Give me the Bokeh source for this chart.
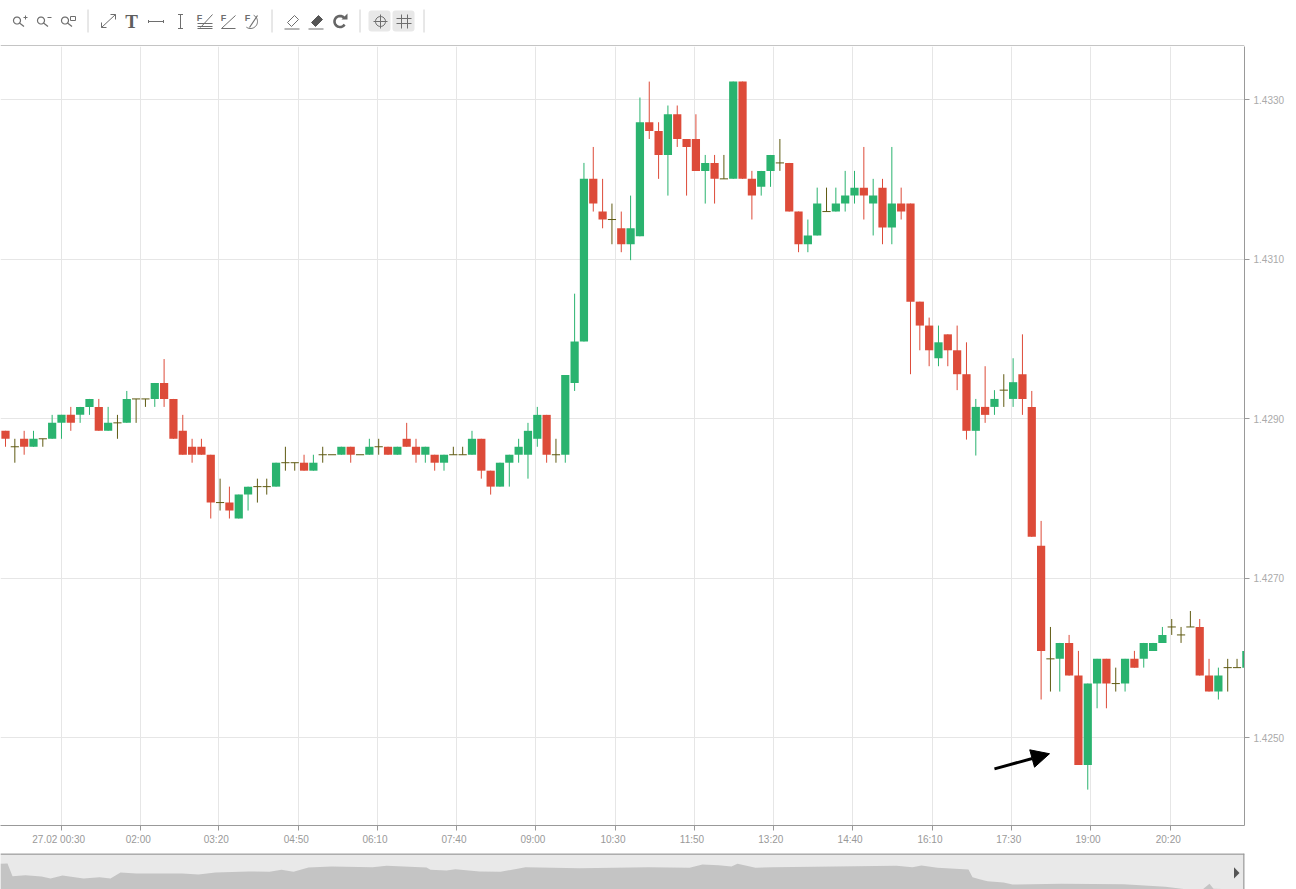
import math
from bokeh.plotting import figure
from bokeh.layouts import column
from bokeh.models import (Range1d, FixedTicker, NumeralTickFormatter, Arrow, NormalHead)
from bokeh.core.properties import value
from bokeh.embed import file_html
from bokeh.resources import INLINE

# Candles, as pips above 1.4250, 10 minutes each
opens = [38.5,36.5,37.5,36.5,37.5,37.5,39.5,40.5,40.5,41.5,41.5,38.5,39.5,39.5,42.5,42.5,42.5,44.5,42.5,38.5,
 36.5,36.5,35.5,29.5,29.5,27.5,30.5,31.5,31.5,31.5,34.5,34.5,34.5,33.5,35.5,35.5,35.5,36.5,35.5,35.5,
 36.5,36.5,35.5,37.5,36.5,35.5,35.5,34.5,35.5,35.5,35.5,37.5,33.5,31.5,34.5,35.5,35.5,37.5,40.5,35.5,
 35.5,44.5,49.7,70.1,66.0,65.0,63.9,61.9,62.9,77.2,76.1,73.1,78.2,75.1,75.1,71.1,72.1,70.1,70.1,82.3,
 70.1,69.1,71.1,72.1,72.1,66.0,61.9,63.0,66.0,66.0,67.0,68.0,69.0,67.0,69.0,64.0,67.0,67.0,54.7,51.7,
 47.6,50.6,48.6,45.6,38.5,41.5,41.5,43.6,42.5,45.6,41.5,24.1,9.9,9.9,11.9,7.8,-3.4,6.8,9.9,6.8,
 6.8,9.9,9.9,10.9,11.9,13.9,12.9,13.9,13.9,7.8,5.8,8.8,8.8,8.8]
closes = [37.5,36.5,36.5,37.5,37.5,39.5,40.5,39.5,41.5,42.5,38.5,39.5,39.5,42.5,42.5,42.5,44.5,42.5,37.5,35.5,
 35.5,35.5,29.5,29.5,28.5,30.5,31.5,31.5,31.5,34.5,34.5,34.5,33.5,34.5,35.5,35.5,36.5,35.5,35.5,36.5,
 36.5,35.5,36.5,36.5,35.5,36.5,34.5,35.5,35.5,35.5,37.5,33.5,31.5,34.5,35.5,36.5,38.5,40.5,35.5,35.5,
 45.5,49.7,70.1,67.0,65.0,65.0,61.9,63.9,77.2,76.1,73.1,78.2,75.1,74.1,71.1,72.1,70.1,70.1,82.3,70.1,
 68.0,71.1,73.1,72.1,66.0,61.9,63.0,67.0,66.0,67.0,68.0,69.0,68.0,68.0,64.0,67.0,66.0,54.7,51.7,48.6,
 49.6,48.6,45.6,38.5,41.5,40.5,42.5,43.6,44.6,42.5,25.2,10.9,9.9,11.9,7.8,-3.4,6.8,9.9,6.8,6.8,
 9.9,8.8,11.9,11.9,12.9,13.9,12.9,13.9,7.8,5.8,7.8,8.8,8.8,10.9]
highs = [38.5,37.5,38.5,38.5,37.5,40.5,40.5,41.5,41.5,42.5,42.5,41.5,40.5,43.5,42.5,42.5,44.5,47.5,42.5,40.5,
 37.5,37.5,35.5,32.5,31.5,30.5,31.5,32.5,32.5,34.5,36.5,34.5,35.5,35.5,36.5,35.5,36.5,36.5,35.5,37.5,
 37.5,36.5,36.5,39.5,37.5,36.5,35.5,35.5,36.5,36.5,38.5,37.5,33.5,34.5,35.5,37.5,39.5,41.5,40.5,37.5,
 45.5,55.7,72.1,74.1,70.1,67.0,66.0,68.0,80.3,82.3,77.2,79.3,79.3,75.1,78.2,73.1,73.1,73.1,82.3,82.3,
 71.1,71.1,73.1,75.1,72.1,66.0,65.0,69.0,69.0,69.0,71.1,71.1,74.1,70.1,70.1,74.1,69.0,67.0,54.7,52.7,
 51.7,50.6,51.7,49.6,42.5,46.6,43.6,45.6,47.6,50.6,43.5,27.2,13.9,11.9,12.9,10.9,6.8,9.9,9.9,8.8,
 9.9,10.9,11.9,11.9,13.9,14.9,13.9,15.9,14.9,9.9,8.8,9.9,9.9,10.9]
lows = [36.5,34.5,35.5,36.5,36.5,37.5,37.5,38.5,39.5,40.5,38.5,38.5,37.5,39.5,39.5,41.5,41.5,41.5,37.5,35.5,
 34.5,35.5,27.5,28.5,27.5,27.5,28.5,29.5,30.5,31.5,33.5,33.5,33.5,33.5,34.5,35.5,35.5,34.5,35.5,35.5,
 35.5,35.5,35.5,36.5,34.5,34.5,33.5,33.5,35.5,35.5,35.5,32.5,30.5,31.5,31.5,34.5,32.5,36.5,34.5,34.5,
 34.5,43.5,49.7,66.0,63.9,61.9,60.9,59.9,62.9,75.1,70.1,68.0,74.1,68.0,71.1,67.0,67.0,70.1,70.1,70.1,
 65.0,68.0,69.1,71.1,66.0,60.9,60.9,63.0,66.0,66.0,66.0,67.0,65.0,63.0,61.9,61.9,65.0,45.6,48.6,46.6,
 46.6,46.6,43.6,37.4,35.4,39.5,40.5,41.5,41.5,40.5,25.2,4.8,5.8,5.8,7.8,-3.4,-6.5,3.7,3.7,5.8,
 5.8,8.8,8.8,10.9,11.9,12.9,11.9,13.9,7.8,5.8,4.8,5.8,8.8,8.8]

# Time axis
tick_slots = [5.97,14.5,22.86,31.44,39.87,48.34,56.8,65.38,73.85,82.3,90.8,99.36,107.8,116.3,124.9]
tick_labels = ["27.02 00:30","02:00","03:20","04:50","06:10","07:40","09:00","10:30",
               "11:50","13:20","14:40","16:10","17:30","19:00","20:20"]
price_ticks = [1.4250,1.4270,1.4290,1.4310,1.4330]

# Navigator profile
nav_x = [0,7,12,25,41,50,62,83,99,110,120,136,182,198,215,248,269,281,293,308,331,372,386,426,430,446,455,479,500,525,579,
         648,689,702,718,731,737,755,772,834,896,912,921,937,968,972,979,987,1003,1012,1061,1123,1165,1185,1202,1209,1213,1244]
nav_h = [25.7,26,13.3,14.3,13,11,14,11,12.3,11,17,16,16,15,17,18,17.7,19.7,17.7,22,23,22.3,23.7,22,19.7,19,20.3,18,17.7,22.3,21.3,
         22.3,21.7,25,24.3,23,25.7,21.7,22.3,23,23.7,22.3,24,21.7,20,12.3,10.3,8.3,7,5,5.7,5.3,2.7,0.3,0,5.7,0.7,0]

RED, GREEN, DOJI = "#dd4b39", "#2ab36f", "#5f5a12"
price = lambda v: 1.4250 + v / 10000
n = len(opens)
slots = list(range(n))
BODY = 0.88

# ---------- toolbar strip ----------
bar = figure(width=1296, height=46, x_range=Range1d(0, 1244), y_range=Range1d(46, 0),
             x_axis_location=None, y_axis_location=None,
             output_backend="svg", toolbar_location=None,
             min_border_left=0, min_border_right=52, min_border_top=0, min_border_bottom=0,
             outline_line_color=None)
bar.grid.visible = False
ICON = "#6e6e6e"

def arc_pts(cx, cy, r, a0, a1, steps=24):
    t = [a0 + (a1 - a0) * k / steps for k in range(steps + 1)]
    return [cx + r * math.cos(a) for a in t], [cy - r * math.sin(a) for a in t]

bar.segment(x0=[0], y0=[45.5], x1=[1244], y1=[45.5], line_color="#b0b0b0", line_width=1.5)
for sx in [87.5, 271.5, 359.5, 423.5]:
    bar.segment(x0=[sx], y0=[9], x1=[sx], y1=[32], line_color="#d0d0d0")
for cx in [379, 403]:
    bar.rect(x=[cx], y=[20.5], width=22, height=21, fill_color="#e8e8e8", line_color=None,
             border_radius=3)
for cx in [16.5, 40.5, 64.5]:
    bar.line(*arc_pts(cx, 20, 3.5, 0, 6.3), line_color=ICON, line_width=1.2)
    bar.segment(x0=[cx + 2.5], y0=[22.5], x1=[cx + 7], y1=[26], line_color=ICON, line_width=1.2)
bar.segment(x0=[23, 25], y0=[17, 15], x1=[27, 25], y1=[17, 19], line_color=ICON)
bar.segment(x0=[47], y0=[17], x1=[51], y1=[17], line_color=ICON)
bar.quad(left=[70], right=[75], top=[16], bottom=[20], fill_color=None, line_color=ICON)
bar.segment(x0=[101, 110, 115, 101, 101], y0=[27, 14, 14, 22, 27], x1=[115, 115, 115, 101, 106],
            y1=[14, 14, 19, 27, 27], line_color=ICON)
bar.text(x=[131], y=[21], text=["T"], text_font=value("Liberation Serif"), text_font_style="bold",
         text_font_size="19px", text_color="#5e5e5e", text_align="center", text_baseline="middle")
bar.segment(x0=[148, 148, 163, 180, 177.5, 177.5], y0=[21, 19.5, 19.5, 14, 14, 28], x1=[163, 148, 163, 180, 182.5, 182.5],
            y1=[21, 22.5, 22.5, 28, 14, 28], line_color=ICON)
for fx in [199, 223, 247]:
    bar.text(x=[fx], y=[17], text=["F"], text_font=value("Liberation Sans"), text_font_style="bold",
             text_font_size="9px", text_color=ICON, text_align="center", text_baseline="middle")
bar.segment(x0=[197, 197, 197, 200, 221, 221], y0=[28, 23, 26, 27, 28, 28], x1=[212, 212, 212, 212, 235, 235],
            y1=[28, 23, 26, 14, 28, 15], line_color=ICON)
bar.line(*arc_pts(250, 21, 7, 1.1, -2.2), line_color=ICON)
bar.segment(x0=[249, 284, 308], y0=[27, 28.5, 28.5], x1=[257, 299, 323], y1=[15, 28.5, 28.5], line_color=ICON, line_width=1.2)
bar.patch(x=[287, 294, 298, 291], y=[22, 15, 19, 26], fill_color="#ffffff", line_color=ICON)
bar.patch(x=[311, 318, 322, 315], y=[22, 15, 19, 26], fill_color="#555555", line_color="#555555")
bar.line(*arc_pts(339.5, 21, 5.5, 0.75, 5.7), line_color="#666666", line_width=2.6)
bar.patch(x=[341, 347, 347], y=[19, 19, 13], fill_color="#666666", line_color=None)
bar.line(*arc_pts(380, 21, 5, 0, 6.3), line_color=ICON)
bar.segment(x0=[373, 380, 396, 396, 401, 407], y0=[21, 14, 18, 23, 14, 14], x1=[387, 380, 411, 411, 401, 407],
            y1=[21, 28, 18, 23, 28, 28], line_color=ICON)

# ---------- main chart ----------
p = figure(width=1296, height=807, x_range=Range1d(-0.536, 132.8), y_range=Range1d(1.42390, 1.43367),
           y_axis_location="right", output_backend="svg", toolbar_location=None,
           min_border_left=0, min_border_right=52, min_border_top=0, min_border_bottom=28,
           outline_line_color=None)

p.xgrid[0].grid_line_color = "#e6e6e6"
p.xgrid[0].ticker = FixedTicker(ticks=tick_slots)
p.ygrid[0].grid_line_color = "#e6e6e6"
p.ygrid[0].ticker = FixedTicker(ticks=price_ticks)

# labels sit a little left of their tick marks: marks are the axis's minor ticks
label_slots = [round(t - 0.27, 2) for t in tick_slots]
ax = p.xaxis[0]
ax.ticker = FixedTicker(ticks=label_slots, minor_ticks=tick_slots)
ax.major_label_overrides = dict(zip(label_slots, tick_labels))
ax.major_tick_line_color = None
ax.major_tick_out = 5
ax.major_tick_in = 0
ax.minor_tick_line_color = "#999999"
ax.minor_tick_out = 5
ax.minor_tick_in = 0
ax.axis_line_color = "#999999"
ax.major_label_standoff = 3
ay = p.yaxis[0]
ay.ticker = FixedTicker(ticks=price_ticks)
ay.formatter = NumeralTickFormatter(format="0.0000")
ay.axis_line_color = "#999999"
ay.major_tick_line_color = "#999999"
ay.major_tick_out = 5
ay.major_tick_in = 0
ay.minor_tick_line_color = None
ay.major_label_standoff = 4
for a, col in ((ax, "#999999"), (ay, "#aaaaaa")):
    a.major_label_text_font = "Liberation Sans"
    a.major_label_text_font_size = "10px"
    a.major_label_text_color = col

def colour(i):
    if opens[i] == closes[i]:
        return DOJI
    return GREEN if closes[i] > opens[i] else RED

colours = [colour(i) for i in slots]
p.segment(x0=slots, x1=slots, y0=[price(v) for v in lows], y1=[price(v) for v in highs],
          line_color=colours, line_width=1)
bodies = [i for i in slots if opens[i] != closes[i]]
p.vbar(x=bodies, width=BODY, top=[price(max(opens[i], closes[i])) for i in bodies],
       bottom=[price(min(opens[i], closes[i])) for i in bodies],
       fill_color=[colours[i] for i in bodies], line_color=None)
dojis = [i for i in slots if opens[i] == closes[i]]
p.segment(x0=[i - BODY / 2 for i in dojis], x1=[i + BODY / 2 for i in dojis],
          y0=[price(opens[i]) for i in dojis], y1=[price(opens[i]) for i in dojis],
          line_color=DOJI, line_width=1)

p.add_layout(Arrow(end=NormalHead(size=18, fill_color="black", line_color="black"),
                   x_start=106, y_start=1.42461, x_end=111.9, y_end=1.42480,
                   line_color="black", line_width=3))

# ---------- navigator ----------
nav = figure(width=1296, height=36, x_range=Range1d(0, 1244), y_range=Range1d(0, 36),
             x_axis_location=None, y_axis_location=None,
             output_backend="svg", toolbar_location=None, min_border_left=0, min_border_right=52,
             min_border_top=0, min_border_bottom=0, outline_line_color=None,
             background_fill_color="#e9e9e9")
nav.grid.visible = False
nav.varea(x=nav_x, y1=[0] * len(nav_x), y2=nav_h, fill_color="#c4c4c4")
nav.patch(x=[1233.5, 1239, 1233.5], y=[22.3, 16.6, 11], fill_color="#555555", line_color=None)
nav.segment(x0=[0, 1243.5], y0=[35.5, 0], x1=[1244, 1243.5], y1=[35.5, 36], line_color="#999999", line_width=1.5)

page = column(bar, p, nav, spacing=0)
open("out.html", "w").write(file_html(page, INLINE))
